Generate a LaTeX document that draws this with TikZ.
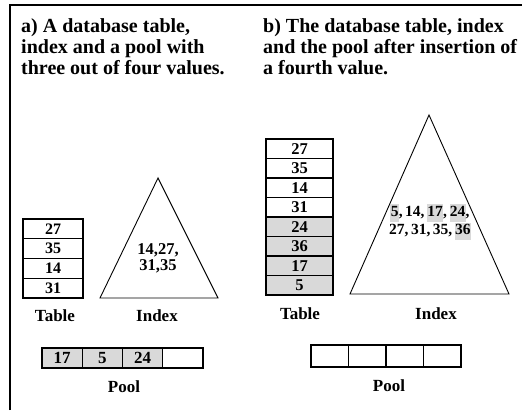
\documentclass[tikz,border=0pt]{standalone}
\usepackage{fontspec}
\setmainfont{Liberation Serif}
\definecolor{hl}{gray}{0.85}
\newcommand{\hlnum}[1]{{\setlength{\fboxsep}{0.3pt}\colorbox{hl}{\strut #1}}}
\newcommand{\gapsp}{\hspace{2.5pt}}
\begin{document}
\begin{tikzpicture}[x=1pt,y=-1pt,
  frame/.style={line width=2pt},
  titletext/.style={anchor=base west, inner sep=0pt, font=\fontsize{20}{21}\selectfont\bfseries},
  tcellA/.style={draw, line width=1.1pt, minimum width=60pt, minimum height=19.75pt, inner sep=0pt, font=\fontsize{16}{16}\selectfont\bfseries},
  tcellB/.style={draw, line width=1.1pt, minimum width=67pt, minimum height=19.5pt, inner sep=0pt, font=\fontsize{16.5}{16.5}\selectfont\bfseries},
  pcellA/.style={draw, line width=1.1pt, minimum width=40.25pt, minimum height=20pt, inner sep=0pt, font=\fontsize{17}{17}\selectfont\bfseries},
  pcellB/.style={draw, line width=1.1pt, minimum width=37.5pt, minimum height=22pt, inner sep=0pt, font=\fontsize{17}{17}\selectfont\bfseries},
  used/.style={fill=hl},
  tri/.style={draw, line width=0.9pt},
  label/.style={inner sep=0pt, font=\fontsize{17}{17}\selectfont\bfseries},
  idxtext/.style={inner sep=0pt, align=center}
]
\useasboundingbox (0,0) rectangle (522,410);
% frame
\coordinate (fl) at (10.3,410);
\coordinate (fc) at (10.3,5);
\coordinate (fr) at (522,5);
\draw[frame] (fl) -- (fc) -- (fr);

% titles
\node[titletext] (ta1) at (21,32) {a) A database table,};
\node[titletext] (ta2) at (21,53) {index and a pool with};
\node[titletext] (ta3) at (21,74) {three out of four values.};
\node[titletext] (tb1) at (263,32) {b) The database table, index};
\node[titletext] (tb2) at (263,53) {and the pool after insertion of};
\node[titletext] (tb3) at (263,74) {a fourth value.};

% panel a: table
\node[tcellA] (a1) at (53,228.875) {27};
\node[tcellA] (a2) at (53,248.625) {35};
\node[tcellA] (a3) at (53,268.375) {14};
\node[tcellA] (a4) at (53,288.125) {31};
\node[label] (tablea) at (55,316) {Table};

% panel a: index
\coordinate (ia-top) at (158,178);
\coordinate (ia-l) at (100,298);
\coordinate (ia-r) at (218,298);
\draw[tri] (ia-top) -- (ia-l) -- (ia-r) -- cycle;
\node[idxtext, font=\fontsize{16.5}{16}\selectfont\bfseries] (ia-txt) at (158,258) {14,27,\\31,35};
\node[label] (indexa) at (157,316) {Index};

% panel a: pool
\node[pcellA, used] (pa1) at (62.125,358) {17};
\node[pcellA, used] (pa2) at (102.375,358) {5};
\node[pcellA, used] (pa3) at (142.625,358) {24};
\node[pcellA] (pa4) at (182.875,358) {};
\node[label] (poola) at (124,387) {Pool};

% panel b: table
\node[tcellB] (b1) at (299.5,148.75) {27};
\node[tcellB] (b2) at (299.5,168.25) {35};
\node[tcellB] (b3) at (299.5,187.75) {14};
\node[tcellB] (b4) at (299.5,207.25) {31};
\node[tcellB, used] (b5) at (299.5,226.75) {24};
\node[tcellB, used] (b6) at (299.5,246.25) {36};
\node[tcellB, used] (b7) at (299.5,265.75) {17};
\node[tcellB, used] (b8) at (299.5,285.25) {5};
\node[label] (tableb) at (300,314) {Table};

% panel b: index
\coordinate (ib-top) at (429,115);
\coordinate (ib-l) at (350,294);
\coordinate (ib-r) at (509,294);
\draw[tri] (ib-top) -- (ib-l) -- (ib-r) -- cycle;
\node[idxtext, font=\fontsize{15.5}{16.5}\selectfont\bfseries] (ib-txt) at (430,222)
  {\hlnum{5},\gapsp14,\gapsp\hlnum{17},\gapsp\hlnum{24},\\27,\gapsp31,\gapsp35,\gapsp\hlnum{36}};
\node[label] (indexb) at (436,314) {Index};

% panel b: pool
\node[pcellB] (pb1) at (329.75,356) {};
\node[pcellB] (pb2) at (367.25,356) {};
\node[pcellB] (pb3) at (404.75,356) {};
\node[pcellB] (pb4) at (442.25,356) {};
\node[label] (poolb) at (389,386) {Pool};
\end{tikzpicture}
\end{document}
